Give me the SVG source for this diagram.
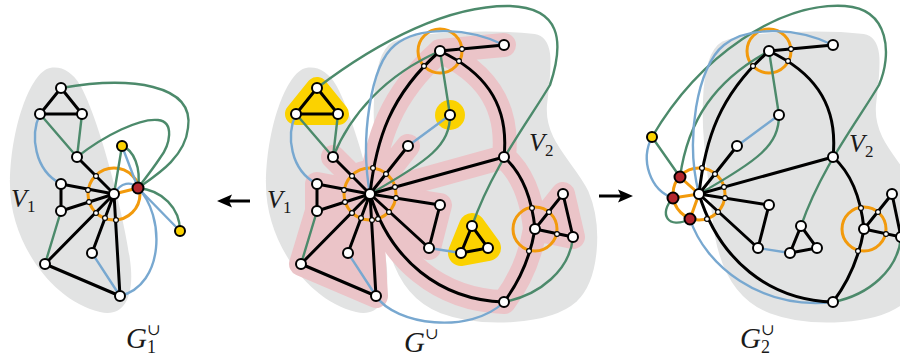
<svg xmlns="http://www.w3.org/2000/svg" width="900" height="360" viewBox="0 0 900 360">
<defs>
<style>
.gray{fill:#e2e3e3}
.gray2{fill:#e2e3e3;stroke:#fff;stroke-width:4}
.k{fill:none;stroke:#000;stroke-width:3;stroke-linecap:round}
.gr{fill:none;stroke:#4c8a6b;stroke-width:2.4;stroke-linecap:round}
.bl{fill:none;stroke:#78a8d0;stroke-width:2.4;stroke-linecap:round}
.or{fill:none;stroke:#f29a0c;stroke-width:3}
.pk{fill:none;stroke:#ebc4c8;stroke-width:24;stroke-linecap:round;stroke-linejoin:round}
.pkf{fill:#ebc4c8;stroke:#ebc4c8;stroke-width:24;stroke-linejoin:round}
.yf{fill:#fbd200;stroke:#fbd200;stroke-linejoin:round}
.n{fill:#fff;stroke:#000;stroke-width:2}
.s{fill:#fff;stroke:#000;stroke-width:1.1}
.yn{fill:#fbd200;stroke:#000;stroke-width:2}
.rn{fill:#b3262e;stroke:#000;stroke-width:2}
.lab{font-family:"Liberation Serif","DejaVu Serif",serif;font-style:italic;fill:#1a1a1a}
.sub{font-style:normal}
</style>
</defs>

<g id="regions">
  <path class="gray" d="M50,68 C30,72 10,130 10,185 C10,240 50,300 100,312 C125,318 135,295 130,260 C125,220 100,120 80,85 C72,72 62,66 50,68 Z"/>
  <path class="gray" transform="translate(256,0)" d="M50,68 C30,72 10,130 10,185 C10,240 50,300 100,312 C125,318 135,295 130,260 C125,220 100,120 80,85 C72,72 62,66 50,68 Z"/>
  <path class="gray2" d="M392,40 C420,28 500,28 535,32 C560,36 552,75 549,105 C546,140 575,160 590,190 C605,225 602,280 578,303 C550,328 480,330 440,315 C400,300 385,260 381,215 C378,180 370,140 372,100 C373,70 378,48 392,40 Z"/>
  <path class="gray2" transform="translate(329,0)" d="M392,40 C420,28 500,28 535,32 C560,36 552,75 549,105 C546,140 575,160 590,190 C605,225 602,280 578,303 C550,328 480,330 440,315 C400,300 385,260 381,215 C378,180 370,140 372,100 C373,70 378,48 392,40 Z"/>
  <polygon class="pkf" points="370,194 317,184 317,211 301,264 376,296"/>
  <polygon class="pkf" points="370,194 440,205 429,248"/>
  <polygon class="pkf" points="535,229 563,194 573,237"/>
  <circle cx="370" cy="194" r="34" fill="#ebc4c8"/>
  <path class="pk" d="M370,194 L333,157 M370,194 L408,146 M370,194 L504,157 M370,194 C376,140 390,95 440,51 M440,51 L504,45 M440,51 C480,70 510,100 504,157 M504,157 Q530,180 535,229 M535,229 Q528,270 504,302 M370,194 C390,260 440,300 504,302"/>
  <polygon class="yf" stroke-width="22" points="317,88 296,114 338,114"/>
  <circle cx="450" cy="115" r="15" fill="#fbd200"/>
  <polygon class="yf" stroke-width="26" points="472,226 461,253 488,248"/>
  <circle class="or" cx="114" cy="194" r="26"/>
  <circle class="or" cx="370" cy="194" r="26"/>
  <circle class="or" cx="440" cy="51" r="22"/>
  <circle class="or" cx="535" cy="229" r="22"/>
  <circle class="or" cx="699" cy="194" r="26"/>
  <circle class="or" cx="769" cy="51" r="22"/>
  <circle class="or" cx="864" cy="229" r="22"/>
</g>

<g id="connectors">
  <path class="gr" d="M61,88 C130,76 195,84 188,128 C185,158 155,176 138,188"/>
  <path class="gr" d="M77,157 C105,135 140,118 158,120 C175,122 170,145 160,158 C152,170 144,180 138,188"/>
  <path class="gr" d="M40,114 L77,157 M82,114 L77,157 M61,211 L45,264 M114,194 L122,146"/>
  <path class="gr" d="M122,146 C134,150 141,168 138,188"/>
  <path class="gr" d="M138,188 C162,190 180,208 180,231"/>
  <path class="bl" d="M40,114 C30,135 34,170 61,184"/>
  <path class="bl" d="M92,253 L120,296"/>
  <path class="bl" d="M120,296 C165,285 165,215 138,188"/>
  <path class="bl" d="M114,194 C121,182 131,181 138,188"/>
  <path class="bl" d="M138,188 L122,146 M138,188 L180,231"/>
  <path class="k" d="M61,88 L40,114 L82,114 Z"/>
  <path class="k" d="M114,194 L77,157 M114,194 L61,184 M114,194 L61,211 M114,194 L45,264 M114,194 L92,253 M114,194 L120,296 M61,184 L61,211 M45,264 L120,296"/>
  <path class="or" d="M114,194 L138,188"/>

  <path class="gr" d="M317,88 C380,40 450,5 510,6 C560,8 565,40 550,85 C528,122 492,168 472,226"/>
  <path class="gr" d="M296,114 L333,157 M338,114 L333,157 M440,51 L450,115 M317,211 L301,264"/>
  <path class="gr" d="M333,157 C350,115 385,75 440,51"/>
  <path class="gr" d="M450,115 C450,145 430,160 370,194"/>
  <path class="gr" d="M573,237 C570,270 540,295 504,302"/>
  <path class="bl" d="M296,114 C286,135 290,170 317,184"/>
  <path class="bl" d="M348,253 L376,296 M429,248 L461,253 M408,146 L450,115"/>
  <path class="bl" d="M376,296 C395,325 470,335 504,302"/>
  <path class="bl" d="M504,45 C470,28 420,25 395,45 C370,65 360,140 370,194"/>
  <path class="k" d="M317,88 L296,114 L338,114 Z M472,226 L461,253 L488,248 Z"/>
  <path class="k" d="M370,194 L333,157 M370,194 L408,146 M370,194 L317,184 M370,194 L317,211 M370,194 L301,264 M370,194 L348,253 M370,194 L376,296 M370,194 L440,205 M370,194 L429,248 M370,194 L504,157 M440,205 L429,248 M317,184 L317,211 M301,264 L376,296"/>
  <path class="k" d="M370,194 C376,140 390,95 440,51 M440,51 L504,45 M440,51 C480,70 510,100 504,157 M504,157 Q530,180 535,229 M535,229 Q528,270 504,302 M370,194 C390,260 440,300 504,302"/>
  <path class="k" d="M535,229 L563,194 L573,237 Z"/>

  <path class="gr" d="M652,137 C700,55 780,2 845,6 C890,9 892,55 879,85 C857,122 821,168 801,226"/>
  <path class="gr" d="M652,137 L680,177 M769,51 L779,115"/>
  <path class="gr" d="M680,177 C688,120 715,80 769,51"/>
  <path class="gr" d="M779,115 C779,145 759,160 699,194"/>
  <path class="gr" d="M673,198 C658,214 668,230 690,219"/>
  <path class="gr" d="M901,237 C898,270 869,295 833,302"/>
  <path class="bl" d="M652,137 C640,160 650,190 673,198"/>
  <path class="bl" d="M690,219 C705,265 760,310 833,302"/>
  <path class="bl" d="M833,45 C799,28 749,25 724,45 C697,66 685,140 699,194"/>
  <path class="bl" d="M779,115 L737,146 M758,248 L790,253"/>
  <path class="k" d="M801,226 L790,253 L817,248 Z"/>
  <path class="k" d="M699,194 L737,146 M699,194 L833,157 M699,194 L769,205 M699,194 L758,248 M769,205 L758,248"/>
  <path class="k" d="M699,194 C705,140 719,95 769,51 M769,51 L833,45 M769,51 C809,70 839,100 833,157 M833,157 Q859,180 864,229 M864,229 Q857,270 833,302 M699,194 C719,260 769,300 833,302"/>
  <path class="k" d="M864,229 L892,194 L901,237 Z"/>
  <path class="or" d="M699,194 L680,177 M699,194 L673,198 M699,194 L690,219"/>

  <line x1="250" y1="201" x2="228" y2="201" stroke="#000" stroke-width="3"/>
  <polygon points="217,201 232,194.5 229,201 232,207.5" fill="#000"/>
  <line x1="599" y1="196" x2="622" y2="196" stroke="#000" stroke-width="3"/>
  <polygon points="633,196 618,189.5 621,196 618,202.5" fill="#000"/>
</g>

<g id="L-t1"><circle class="n" cx="61" cy="88" r="5"/></g>
<g id="L-t2"><circle class="n" cx="40" cy="114" r="5"/></g>
<g id="L-t3"><circle class="n" cx="82" cy="114" r="5"/></g>
<g id="L-a"><circle class="n" cx="77" cy="157" r="5"/></g>
<g id="L-b1"><circle class="n" cx="61" cy="184" r="5"/></g>
<g id="L-b2"><circle class="n" cx="61" cy="211" r="5"/></g>
<g id="L-c"><circle class="n" cx="45" cy="264" r="5"/></g>
<g id="L-d"><circle class="n" cx="92" cy="253" r="5"/></g>
<g id="L-e"><circle class="n" cx="120" cy="296" r="5"/></g>
<g id="L-s1"><circle class="s" cx="96" cy="176" r="2.4"/></g>
<g id="L-s2"><circle class="s" cx="88" cy="190" r="2.4"/></g>
<g id="L-s3"><circle class="s" cx="89" cy="202" r="2.4"/></g>
<g id="L-s4"><circle class="s" cx="96" cy="213" r="2.4"/></g>
<g id="L-s5"><circle class="s" cx="105" cy="218" r="2.4"/></g>
<g id="L-s6"><circle class="s" cx="116" cy="220" r="2.4"/></g>
<g id="L-hub"><circle class="n" cx="114" cy="194" r="5"/></g>
<g id="L-red"><circle class="rn" cx="138" cy="188" r="5.5"/></g>
<g id="L-y1"><circle class="yn" cx="122" cy="146" r="5"/></g>
<g id="L-y2"><circle class="yn" cx="180" cy="231" r="5"/></g>

<g id="M-t1"><circle class="n" cx="317" cy="88" r="5"/></g>
<g id="M-t2"><circle class="n" cx="296" cy="114" r="5"/></g>
<g id="M-t3"><circle class="n" cx="338" cy="114" r="5"/></g>
<g id="M-a"><circle class="n" cx="333" cy="157" r="5"/></g>
<g id="M-u"><circle class="n" cx="408" cy="146" r="5"/></g>
<g id="M-b1"><circle class="n" cx="317" cy="184" r="5"/></g>
<g id="M-b2"><circle class="n" cx="317" cy="211" r="5"/></g>
<g id="M-c"><circle class="n" cx="301" cy="264" r="5"/></g>
<g id="M-d"><circle class="n" cx="348" cy="253" r="5"/></g>
<g id="M-e"><circle class="n" cx="376" cy="296" r="5"/></g>
<g id="M-f"><circle class="n" cx="440" cy="205" r="5"/></g>
<g id="M-g"><circle class="n" cx="429" cy="248" r="5"/></g>
<g id="M-top"><circle class="n" cx="440" cy="51" r="5"/></g>
<g id="M-tr"><circle class="n" cx="504" cy="45" r="5"/></g>
<g id="M-y"><circle class="n" cx="450" cy="115" r="5"/></g>
<g id="M-j"><circle class="n" cx="504" cy="157" r="5"/></g>
<g id="M-rh"><circle class="n" cx="535" cy="229" r="5"/></g>
<g id="M-r1"><circle class="n" cx="563" cy="194" r="5"/></g>
<g id="M-r2"><circle class="n" cx="573" cy="237" r="5"/></g>
<g id="M-bot"><circle class="n" cx="504" cy="302" r="5"/></g>
<g id="M-yt1"><circle class="n" cx="472" cy="226" r="5"/></g>
<g id="M-yt2"><circle class="n" cx="461" cy="253" r="5"/></g>
<g id="M-yt3"><circle class="n" cx="488" cy="248" r="5"/></g>
<g id="M-small">
  <circle class="s" cx="352" cy="176" r="2.4"/><circle class="s" cx="386" cy="174" r="2.4"/>
  <circle class="s" cx="344" cy="190" r="2.4"/><circle class="s" cx="345" cy="202" r="2.4"/>
  <circle class="s" cx="352" cy="213" r="2.4"/><circle class="s" cx="361" cy="218" r="2.4"/>
  <circle class="s" cx="372" cy="220" r="2.4"/><circle class="s" cx="396" cy="198" r="2.4"/>
  <circle class="s" cx="389" cy="212" r="2.4"/><circle class="s" cx="395" cy="187" r="2.4"/>
  <circle class="s" cx="373" cy="168" r="2.4"/><circle class="s" cx="378" cy="219" r="2.4"/>
  <circle class="s" cx="462" cy="49" r="2.4"/><circle class="s" cx="459" cy="61" r="2.4"/>
  <circle class="s" cx="424" cy="66" r="2.4"/>
  <circle class="s" cx="532" cy="208" r="2.4"/><circle class="s" cx="549" cy="212" r="2.4"/>
  <circle class="s" cx="557" cy="234" r="2.4"/><circle class="s" cx="529" cy="251" r="2.4"/>
</g>
<g id="M-hub"><circle class="n" cx="370" cy="194" r="5"/></g>

<g id="R-y"><circle class="yn" cx="652" cy="137" r="5"/></g>
<g id="R-rt"><circle class="rn" cx="680" cy="177" r="5.5"/></g>
<g id="R-rm"><circle class="rn" cx="673" cy="198" r="5.5"/></g>
<g id="R-rb"><circle class="rn" cx="690" cy="219" r="5.5"/></g>
<g id="R-u"><circle class="n" cx="737" cy="146" r="5"/></g>
<g id="R-n"><circle class="n" cx="779" cy="115" r="5"/></g>
<g id="R-top"><circle class="n" cx="769" cy="51" r="5"/></g>
<g id="R-tr"><circle class="n" cx="833" cy="45" r="5"/></g>
<g id="R-j"><circle class="n" cx="833" cy="157" r="5"/></g>
<g id="R-f"><circle class="n" cx="769" cy="205" r="5"/></g>
<g id="R-g"><circle class="n" cx="758" cy="248" r="5"/></g>
<g id="R-yt1"><circle class="n" cx="801" cy="226" r="5"/></g>
<g id="R-yt2"><circle class="n" cx="790" cy="253" r="5"/></g>
<g id="R-yt3"><circle class="n" cx="817" cy="248" r="5"/></g>
<g id="R-rh"><circle class="n" cx="864" cy="229" r="5"/></g>
<g id="R-r1"><circle class="n" cx="892" cy="194" r="5"/></g>
<g id="R-r2"><circle class="n" cx="901" cy="237" r="5"/></g>
<g id="R-bot"><circle class="n" cx="833" cy="302" r="5"/></g>
<g id="R-small">
  <circle class="s" cx="715" cy="174" r="2.4"/><circle class="s" cx="725" cy="198" r="2.4"/>
  <circle class="s" cx="718" cy="212" r="2.4"/><circle class="s" cx="724" cy="187" r="2.4"/>
  <circle class="s" cx="702" cy="168" r="2.4"/><circle class="s" cx="707" cy="219" r="2.4"/>
  <circle class="s" cx="791" cy="49" r="2.4"/><circle class="s" cx="788" cy="61" r="2.4"/>
  <circle class="s" cx="753" cy="66" r="2.4"/>
  <circle class="s" cx="861" cy="208" r="2.4"/><circle class="s" cx="878" cy="212" r="2.4"/>
  <circle class="s" cx="886" cy="234" r="2.4"/><circle class="s" cx="858" cy="251" r="2.4"/>
</g>
<g id="R-hub"><circle class="n" cx="699" cy="194" r="5"/></g>

<g id="labels">
  <text class="lab" x="11" y="207" font-size="26">V<tspan class="sub" font-size="17" dy="5">1</tspan></text>
  <text class="lab" x="267" y="208" font-size="26">V<tspan class="sub" font-size="17" dy="5">1</tspan></text>
  <text class="lab" x="529" y="151" font-size="26">V<tspan class="sub" font-size="17" dy="5">2</tspan></text>
  <text class="lab" x="849" y="152" font-size="26">V<tspan class="sub" font-size="17" dy="5">2</tspan></text>
  <text class="lab" x="126" y="348" font-size="29">G<tspan class="sub" font-size="18" dy="5">1</tspan><tspan class="sub" font-size="16" dx="-9" dy="-18">∪</tspan></text>
  <text class="lab" x="404" y="352" font-size="29">G<tspan class="sub" font-size="16" dy="-13">∪</tspan></text>
  <text class="lab" x="740" y="348" font-size="29">G<tspan class="sub" font-size="18" dy="5">2</tspan><tspan class="sub" font-size="16" dx="-9" dy="-18">∪</tspan></text>
</g>
</svg>
